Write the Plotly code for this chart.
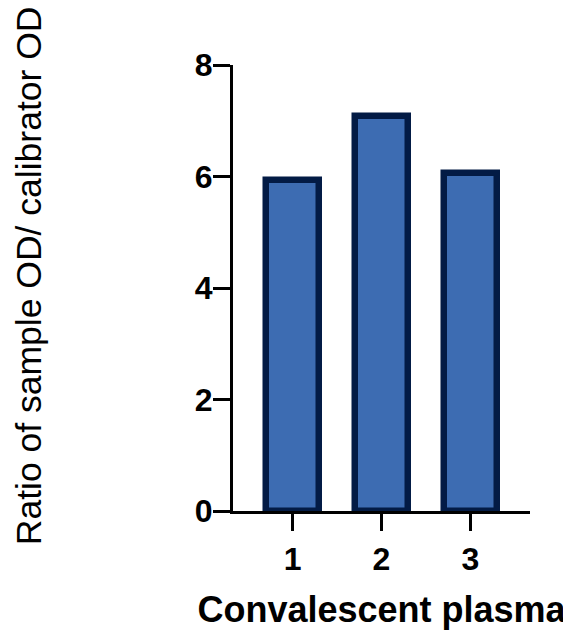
import plotly.graph_objects as go

categories = ["1", "2", "3"]
positions = [1, 2, 3]
values = [5.93, 7.08, 6.06]
y_ticks = [0, 2, 4, 6, 8]
x_title = "Convalescent plasma"
y_title = "Ratio of sample OD/ calibrator OD"

fill_color = "#3D6CB2"
edge_color = "#031B45"

fig = go.Figure()
fig.add_trace(go.Bar(
    x=positions, y=values, width=0.59,
    marker=dict(color=fill_color, line=dict(color=edge_color, width=6.5)),
    showlegend=False,
))

tick_font = dict(family="Liberation Sans, Arial, Helvetica, sans-serif", size=32,
                 color="black", weight="bold")

fig.update_layout(
    width=563, height=626,
    margin=dict(l=225, r=41, t=57, b=123),
    plot_bgcolor="white", paper_bgcolor="white",
    bargap=0,
    xaxis=dict(
        range=[0.33, 3.67], tickvals=positions, ticktext=categories,
        showline=True, linecolor="black", linewidth=3.3,
        ticks="outside", ticklen=17, tickwidth=3.3, tickcolor="black",
        tickfont=tick_font,
        showgrid=False, zeroline=False,
        title=dict(text="<b>" + x_title + "</b>",
                   font=dict(family="Liberation Sans, Arial, sans-serif", size=36, color="black"),
                   standoff=22),
        automargin=False,
    ),
    yaxis=dict(
        range=[0, 8], tickvals=y_ticks,
        showline=True, linecolor="black", linewidth=3.3,
        ticks="outside", ticklen=17, tickwidth=3.3, tickcolor="black",
        tickfont=tick_font, ticklabelstandoff=-6,
        showgrid=False, zeroline=False,
        automargin=False,
    ),
    annotations=[dict(
        text=y_title, textangle=-90, showarrow=False,
        xref="paper", yref="paper", x=-0.688, y=0.528,
        xanchor="center", yanchor="middle",
        font=dict(family="Liberation Sans, Arial, sans-serif", size=35.5, color="black"),
    )],
)

fig.write_html("out.html")
